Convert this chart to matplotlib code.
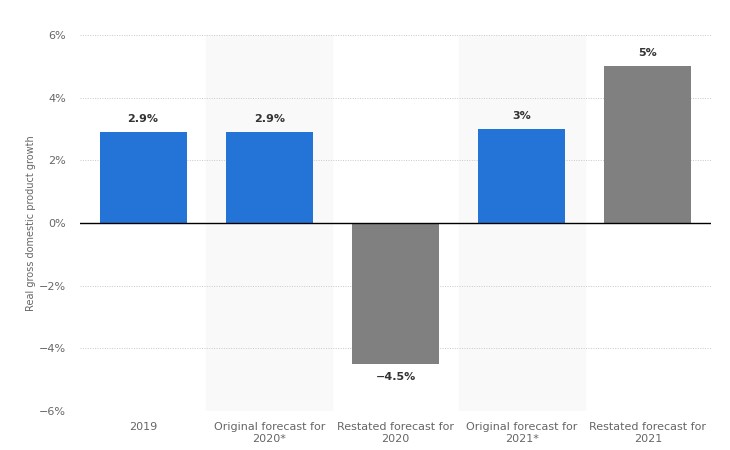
import matplotlib.pyplot as plt
import numpy as np

categories = ["2019", "Original forecast for\n2020*", "Restated forecast for\n2020",
              "Original forecast for\n2021*", "Restated forecast for\n2021"]
values = [2.9, 2.9, -4.5, 3.0, 5.0]
labels = ["2.9%", "2.9%", "\u22124.5%", "3%", "5%"]
colors = ["#2474d8", "#2474d8", "#808080", "#2474d8", "#808080"]
yticks = [-6, -4, -2, 0, 2, 4, 6]

fig = plt.figure(figsize=(7.3, 4.5), dpi=100)
ax = fig.add_axes([80 / 730, 39 / 450, 631 / 730, 376 / 450])

x = np.arange(len(categories))

# alternating light bands
for i in x:
    if i % 2 == 1:
        ax.axvspan(i - 0.5, i + 0.5, color="#f9f9f9", zorder=0)

ax.bar(x, values, width=0.69, color=colors, zorder=3)

for xi, v, lab in zip(x, values, labels):
    if v >= 0:
        ax.text(xi, v + 0.25, lab, ha="center", va="bottom", fontsize=8,
                fontweight="bold", color="#333333")
    else:
        ax.text(xi, v - 0.25, lab, ha="center", va="top", fontsize=8,
                fontweight="bold", color="#333333")

ax.set_xlim(-0.5, len(categories) - 0.5)
ax.set_ylim(-6, 6)
ax.set_yticks(yticks)
ax.set_yticklabels([f"{t}%".replace("-", "\u2212") for t in yticks])
ax.set_xticks(x)
ax.set_xticklabels(categories)

ax.grid(axis="y", linestyle=(0, (1, 1.5)), color="#c8c8c8", linewidth=0.7, zorder=1)
ax.axhline(0, color="black", linewidth=1, zorder=4)

for s in ax.spines.values():
    s.set_visible(False)
ax.tick_params(axis="both", length=0, labelsize=8, colors="#666666")
ax.tick_params(axis="y", pad=10)
ax.tick_params(axis="x", pad=8)

ax.set_ylabel("Real gross domestic product growth", fontsize=7, color="#666666")
ax.yaxis.set_label_coords(-44 / 631, 0.5)

fig.savefig("out.png", dpi=100)
